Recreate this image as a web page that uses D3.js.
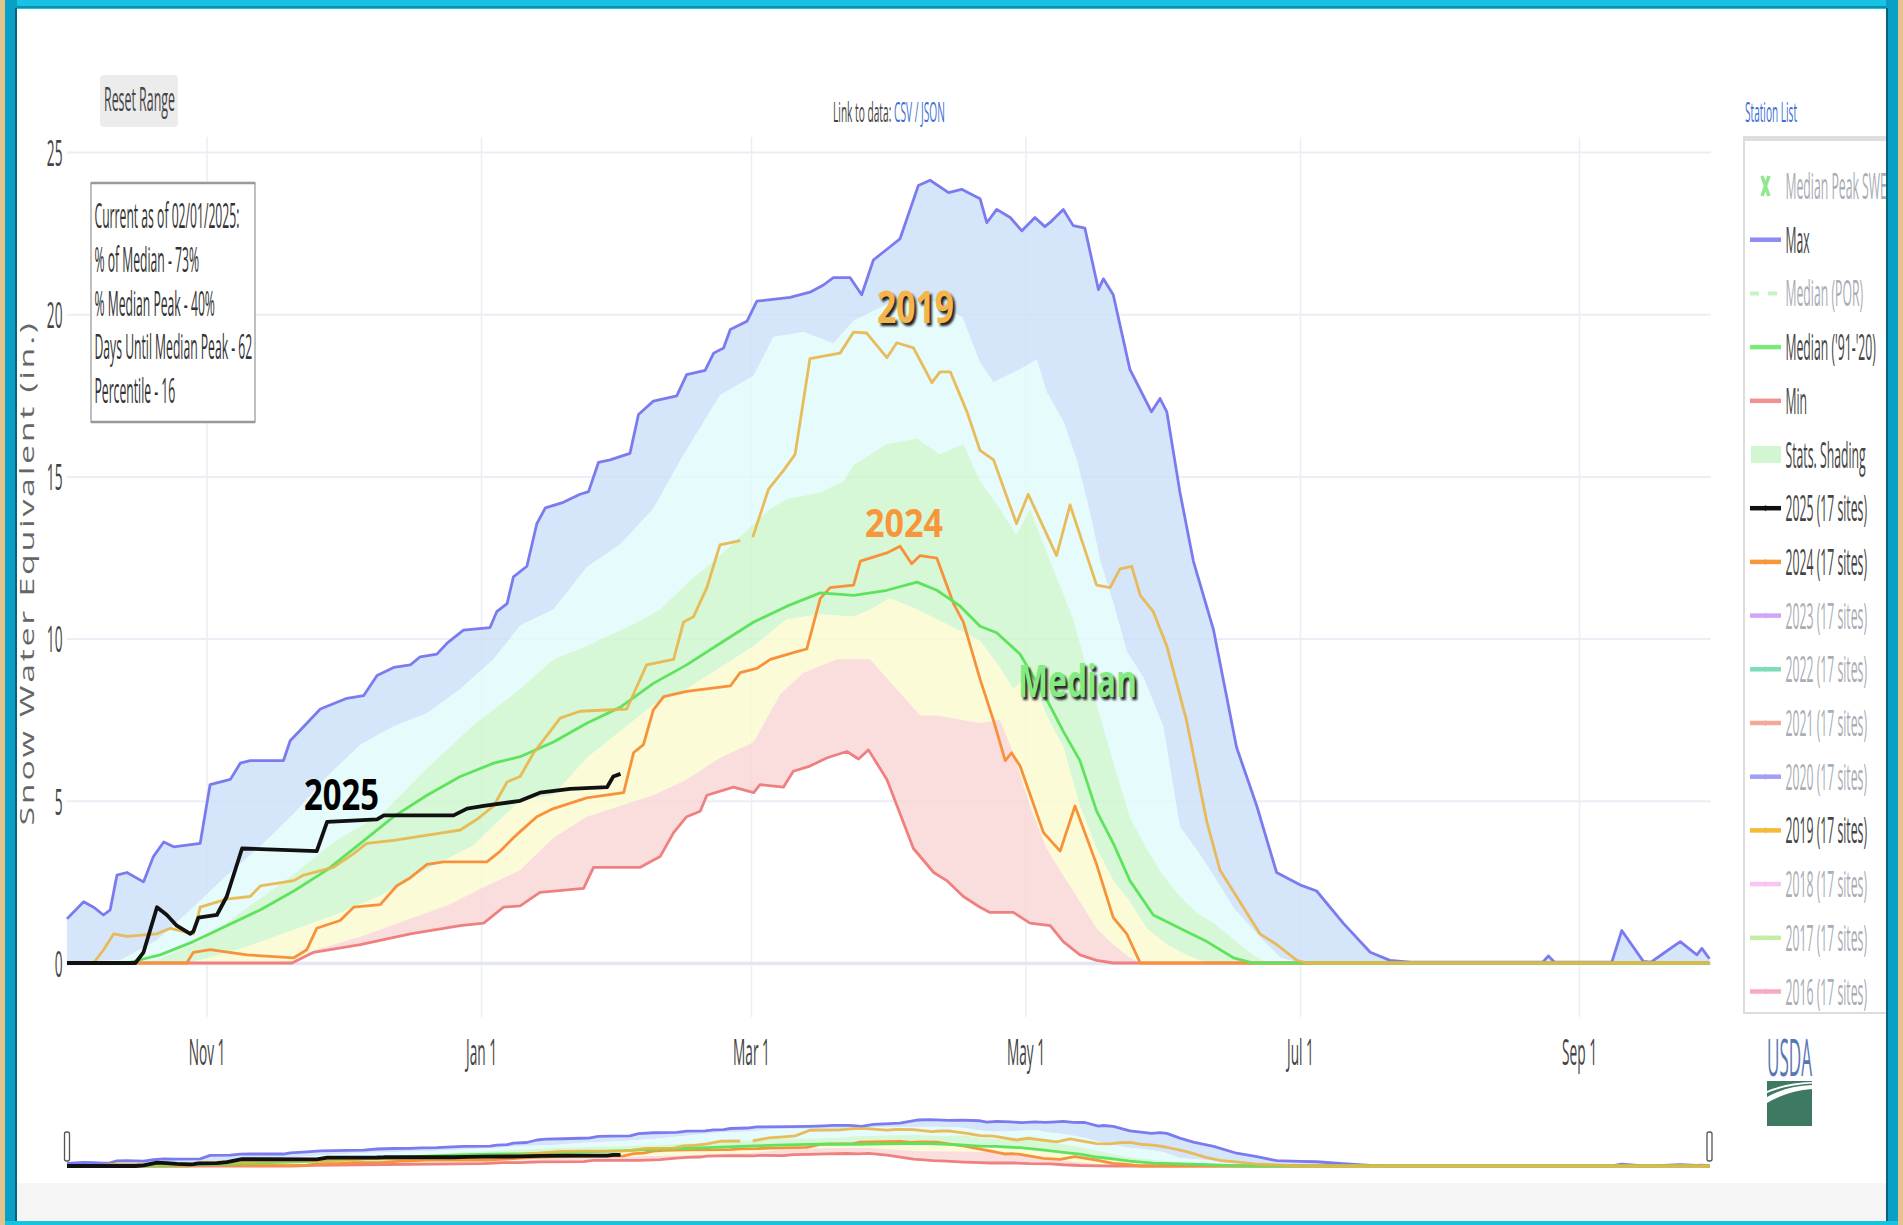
<!DOCTYPE html>
<html><head><meta charset="utf-8">
<script src="https://cdn.jsdelivr.net/npm/d3@7"></script>
<style>
html,body{margin:0;padding:0;background:#fff;overflow:hidden}
svg{display:block}
text{font-family:"Open Sans",sans-serif}
</style>
</head><body>
<svg id="chart" width="1903" height="1225"></svg>
<script>
// ---------------- DATA (day of water year, 0 = Oct 1; SWE inches) ----------------
const tickDates = ["1999-11-01","2000-01-01","2000-03-01","2000-05-01","2000-07-01","2000-09-01"];
const tickLabels = ["Nov 1","Jan 1","Mar 1","May 1","Jul 1","Sep 1"];
const yTicks = [0,5,10,15,20,25];

const maxSWE = [[0,1.36],[3.7,1.89],[5.9,1.72],[8.1,1.48],[9.6,1.64],[11.1,2.71],[13.3,2.79],[17,2.5],[19.2,3.28],[21.5,3.73],[23.7,3.58],[29.6,3.69],[31.8,5.5],[36.3,5.66],[38.5,6.16],[40.7,6.24],[48.1,6.24],[49.6,6.85],[53.3,7.39],[56.3,7.83],[62.2,8.16],[65.9,8.24],[68.9,8.86],[72.6,9.11],[76.3,9.19],[78.5,9.44],[82.2,9.52],[84.4,9.85],[88.1,10.26],[94,10.34],[95.5,10.83],[97.8,11.08],[99.2,11.9],[102.2,12.23],[104.4,13.54],[106.3,14.03],[110.3,14.2],[114,14.45],[115.9,14.53],[118.1,15.43],[120.7,15.51],[125.1,15.71],[127,16.91],[130.3,17.32],[135.5,17.48],[137.7,18.14],[141.8,18.27],[143.7,18.8],[145.9,18.96],[147.4,19.53],[151.1,19.78],[153.3,20.4],[160.7,20.52],[165.1,20.68],[168.1,20.9],[170.3,21.13],[174,21.13],[176.6,20.6],[179.2,21.67],[182.9,22.08],[185.1,22.32],[189.2,23.97],[191.8,24.13],[195.9,23.75],[198.8,23.85],[202.9,23.56],[204.4,22.82],[206.6,23.23],[209.6,22.98],[212.2,22.57],[215.1,22.98],[217.3,22.7],[218.8,22.87],[221.4,23.23],[223.6,22.73],[226.2,22.65],[229.2,20.76],[230.3,21.09],[232.5,20.6],[236.2,18.3],[241,16.99],[242.9,17.4],[244.4,16.99],[247.3,14.53],[250.3,12.39],[254.8,10.26],[259.9,6.65],[264.4,4.84],[268.8,2.79],[274,2.41],[277.7,2.22],[283.6,1.23],[289.6,0.33],[294,0.08],[298.5,0.03],[328,0.03],[329.2,0.22],[330.5,0.03],[343.3,0.03],[345.5,1.0],[350.3,0.05],[352,0.03],[354.8,0.3],[358.5,0.66],[362.2,0.25],[363.3,0.45],[365,0.13]];
const p90 = [[0,0],[12,0.1],[20,0.7],[28.1,1.72],[35.5,2.7],[43,3.6],[50.4,4.6],[57.8,5.75],[65.2,6.73],[72.6,7.3],[80,7.7],[87.4,8.45],[94.8,9.36],[100.7,10.4],[108.1,10.9],[115.5,12.2],[122.9,12.9],[130.3,14.0],[136.3,15.5],[145.1,17.5],[152.6,18.1],[157,19.3],[163.7,19.45],[170.3,19.1],[174.8,19.8],[182.2,20.3],[193.3,20.4],[199,19.9],[202.9,18.5],[205.9,17.9],[211.8,18.3],[215.5,18.6],[217.7,17.6],[221.4,16.7],[224.4,15.5],[227.3,13.9],[229.6,12.4],[232.5,11.1],[235.5,9.6],[239.2,8.8],[243.6,7.3],[247.3,4.2],[251,3.5],[254.8,2.7],[259.2,1.7],[264.4,0.9],[269.6,0.16],[274,0],[365,0]];
const p70 = [[0,0],[15,0],[20,0.1],[30,0.7],[40,1.7],[50,2.7],[60,3.8],[70,4.6],[80,6.0],[90,7.3],[100.7,8.45],[108.1,9.36],[115.5,9.77],[122.9,10.26],[126.6,10.5],[131.8,10.9],[137.7,11.7],[145.1,12.56],[152.6,13.54],[156.3,14.0],[160,14.3],[167.4,14.5],[172.6,14.86],[174.8,15.35],[182.2,16.0],[188.9,16.17],[194,15.68],[199.2,16.0],[202.9,14.86],[207.3,14.0],[211,13.2],[214,14.0],[216.2,13.2],[219.9,11.9],[223.6,10.6],[226.6,9.1],[229.6,7.6],[232.5,6.2],[236.2,4.5],[240,3.5],[243.6,2.7],[247.3,2.05],[251,1.56],[254.8,1.23],[259.2,0.74],[263.6,0.25],[266.6,0],[365,0]];
const p30 = [[0,0],[25,0],[30,0.1],[40,0.5],[50,1.0],[60,1.5],[70,2.1],[80,2.9],[90,3.6],[100.7,5.0],[108.1,5.17],[115.5,6.32],[122.9,7.14],[130.3,7.96],[137.7,8.45],[145.1,9.1],[152.6,9.77],[160,10.6],[167.4,10.75],[174.8,10.67],[178.5,10.9],[182.9,11.24],[188.9,10.9],[193.3,10.6],[202.9,9.93],[207.3,9.1],[210.3,8.45],[214,8.9],[217.7,7.63],[221.4,6.65],[225.1,4.84],[228.8,3.53],[232.5,2.54],[236.2,1.89],[239.9,1.07],[244.4,0.57],[248.8,0.25],[253.3,0],[365,0]];
const p10 = [[0,0],[45,0],[50,0.05],[55,0.4],[65,0.8],[75,1.3],[85,1.8],[92,2.3],[100.7,2.87],[108.1,3.86],[115.5,4.51],[122.9,4.84],[130.3,5.17],[137.7,5.66],[145.1,6.32],[152.6,6.81],[158.5,8.29],[163.7,8.95],[171.1,9.36],[178.5,9.36],[182.2,8.78],[189.6,7.63],[193.3,7.63],[202.9,7.4],[207.3,7.5],[210.3,6.48],[214,4.84],[217.7,3.53],[221.4,2.7],[225.1,1.89],[228.8,1.07],[232.5,0.57],[236.2,0.16],[238.5,0],[365,0]];
const minSWE = [[0,0],[50,0],[54.8,0.33],[65.2,0.57],[76.3,0.9],[87.4,1.15],[92.6,1.23],[97,1.72],[100.7,1.76],[105.1,2.18],[114.8,2.3],[117,2.95],[127.4,2.95],[131.8,3.28],[134.8,4.02],[137.7,4.51],[140.7,4.68],[142.2,5.17],[148.1,5.42],[152.6,5.25],[154,5.5],[159.2,5.42],[161.4,5.91],[165.1,6.07],[168.8,6.32],[173.3,6.52],[175.9,6.29],[178.1,6.57],[182.2,5.66],[188.1,3.53],[192.6,2.79],[195.5,2.54],[199.2,2.05],[202.9,1.72],[205.1,1.56],[210.3,1.56],[214,1.23],[218.5,1.15],[221.4,0.66],[225.1,0.25],[228.8,0.08],[232.5,0],[365,0]];
const medianSWE = [[0,0],[13.3,0],[20.7,0.25],[28.1,0.66],[35.5,1.15],[43,1.64],[50.4,2.22],[57.8,2.87],[65.2,3.69],[72.6,4.51],[80,5.17],[87.4,5.75],[94.8,6.16],[100.7,6.36],[108.1,6.81],[115.5,7.39],[122.9,7.88],[130.3,8.62],[137.7,9.19],[145.1,9.85],[152.6,10.51],[160,11.0],[167.4,11.41],[174.8,11.33],[182.2,11.49],[188.9,11.74],[193.3,11.49],[198.5,11.0],[202.9,10.38],[206.6,10.18],[211.8,9.52],[217.7,8.13],[221.4,7.14],[225.1,6.24],[228.8,4.68],[232.5,3.69],[236.2,2.54],[241.4,1.48],[247.3,1.07],[253.3,0.66],[259.2,0.16],[263.6,0],[365,0]];
const wy2019 = [[0,0],[5.9,0],[8.1,0.4],[10.4,0.9],[13.3,0.82],[20,0.9],[23,1.07],[28.1,0.9],[29.6,1.72],[35.5,1.97],[40.7,2.05],[43,2.38],[50.4,2.54],[52.6,2.71],[59.2,2.95],[63.7,3.37],[66.6,3.69],[72.6,3.78],[83.7,4.02],[87.4,4.1],[91.1,4.43],[94.8,4.84],[97.8,5.58],[100.7,5.75],[103.7,6.48],[109.6,7.55],[114,7.76],[124.4,7.83],[128.8,9.19],[134.8,9.36],[137,10.51],[139.2,10.67],[142.2,11.57],[145.1,12.89],[149.6,13.02],[150.6,null],[152.4,13.13],[155.9,14.61],[159.2,15.18],[161.8,15.68],[165.1,18.63],[171.8,18.8],[174.8,19.45],[177.7,19.42],[182.2,18.66],[184.4,19.12],[188.1,18.96],[192.2,17.89],[194,18.22],[196.3,18.22],[200,16.99],[202.9,15.8],[205.9,15.51],[211,13.54],[213.6,14.45],[219.9,12.56],[222.9,14.12],[228.8,11.65],[231.8,11.57],[234,12.15],[236.6,12.23],[238.5,11.33],[241.4,10.83],[244.4,9.77],[248.8,7.47],[253.3,4.35],[256.2,2.87],[261.4,1.72],[265.1,0.9],[268.8,0.57],[273.3,0.08],[275.5,0],[365,0]];
const wy2024 = [[0,0],[26.6,0],[28.1,0.33],[31.8,0.41],[40,0.25],[50.4,0.16],[53.3,0.41],[55.5,1.07],[60.7,1.31],[63.7,1.72],[69.6,1.8],[73.3,2.38],[76.3,2.63],[80,3.04],[83.7,3.12],[93.3,3.12],[96.3,3.45],[99.2,3.86],[100.7,4.05],[104.4,4.51],[108.1,4.76],[115.5,5.09],[123.7,5.25],[125.9,6.48],[128.1,6.73],[130.3,7.8],[132.6,8.21],[137.7,8.37],[147.4,8.54],[149.6,8.95],[153.3,9.08],[156.3,9.36],[162.2,9.6],[164.4,9.68],[167.4,11.24],[169.6,11.57],[174.8,11.65],[176.3,12.39],[182.2,12.64],[185.1,12.85],[187.7,12.31],[189.6,12.56],[193.3,12.48],[197,11.08],[199.2,10.51],[202.9,8.75],[205.9,7.47],[208.5,6.24],[209.9,6.48],[211.8,6.07],[217,4.02],[220.7,3.45],[224,4.84],[228.8,3.04],[232.5,1.4],[235.5,0.9],[238.5,0],[365,0]];
const wy2025 = [[0,0],[15.2,0],[17,0.33],[20,1.72],[22.2,1.48],[24.4,1.15],[27.4,0.9],[28.1,0.98],[29.2,1.4],[33.3,1.48],[35.5,2.05],[38.9,3.53],[55.5,3.45],[57.8,4.35],[68.9,4.43],[70.4,4.55],[85.9,4.55],[88.9,4.76],[92.6,4.84],[100.7,5.0],[105.1,5.25],[111.8,5.37],[120,5.42],[121.4,5.75],[123,5.83]];

const infoLines = ["Current as of 02/01/2025:","% of Median - 73%","% Median Peak - 40%","Days Until Median Peak - 62","Percentile - 16"];
const legendNames = ["Median Peak SWE","Max","Median (POR)","Median ('91-'20)","Min","Stats. Shading","2025 (17 sites)","2024 (17 sites)","2023 (17 sites)","2022 (17 sites)","2021 (17 sites)","2020 (17 sites)","2019 (17 sites)","2018 (17 sites)","2017 (17 sites)","2016 (17 sites)"];
const legendVisible = [false,true,false,true,true,true,true,true,false,false,false,false,true,false,false,false];
const annoLabels = ["2019","2024","Median","2025"];

// ---------------- STYLES ----------------
const C = {
  max:"#7b7bef", min:"#ef8080", median:"#5fe35f", y2019:"#e9b548", y2024:"#f7923a", y2025:"#111111",
  bandBlue:"rgb(204,224,249)", bandCyan:"rgb(224,250,250)", bandGreen:"rgb(204,246,204)",
  bandYellow:"rgb(250,250,206)", bandRed:"rgb(249,214,214)"
};
const legendSym = [
  {t:"x",c:"#8ee88e"},{t:"line",c:"#8c8cf2"},{t:"dash",c:"#c6f2c6"},{t:"line",c:"#7ae87a"},{t:"line",c:"#f29090"},
  {t:"rect",c:"#d2f6d2"},{t:"line",c:"#111"},{t:"line",c:"#f7963a"},{t:"line",c:"#cfa6f6"},{t:"line",c:"#7fdcb8"},
  {t:"line",c:"#f4a898"},{t:"line",c:"#a0a0f6"},{t:"line",c:"#f5b935"},{t:"line",c:"#f8c4f4"},{t:"line",c:"#c8eca8"},{t:"line",c:"#f8a8c0"}
];
const SX = 0.37;

// ---------------- SETUP ----------------
const svg = d3.select("#chart");
const T0 = Date.UTC(1999,9,1);
const dayDate = d => new Date(T0 + d*86400000);
const x = d3.scaleUtc().domain([dayDate(0), dayDate(365)]).range([67, 1709.5]);
const y = d3.scaleLinear().domain([0,25]).range([963,152]);
const yS = d3.scaleLinear().domain([0,25]).range([1166,1118]);

svg.append("rect").attr("width",1903).attr("height",1225).attr("fill","#fff");

function sText(parent, str, px, py, size, sx, anchor, color, extra) {
  const t = parent.append("text").attr("transform",`translate(${px},${py}) scale(${sx},1)`)
    .attr("text-anchor",anchor).attr("font-size",size).attr("fill",color).text(str);
  if (extra) extra(t);
  return t;
}
function fitText(t, px, py, target) {
  const w = t.node().getComputedTextLength();
  const s = target / w;
  t.attr("transform",`translate(${px},${py}) scale(${s},1)`);
  return s;
}

// ---------------- AXES / GRID ----------------
const gx = svg.append("g").attr("transform","translate(0,1017)")
  .call(d3.axisBottom(x).tickValues(tickDates.map(s=>new Date(s+"T00:00:00Z")))
    .tickFormat((d,i)=>tickLabels[i]).tickSize(-880).tickPadding(0));
gx.select(".domain").remove();
gx.selectAll(".tick line").attr("stroke","#eceef6").attr("stroke-width",1.5);
gx.selectAll(".tick text").attr("y",0).attr("dy",0).attr("transform",`translate(0,48) scale(0.38,1)`)
  .attr("font-size",36).attr("font-family",'"Open Sans",sans-serif').attr("fill","#444");

const gy = svg.append("g").attr("transform","translate(67,0)")
  .call(d3.axisLeft(y).tickValues(yTicks).tickSize(-1644).tickPadding(0));
gy.select(".domain").remove();
gy.selectAll(".tick line").attr("stroke",d=>d===0?"#e4e6f2":"#eceef6").attr("stroke-width",d=>d===0?3.5:2);
gy.selectAll(".tick text").attr("x",0).attr("dy","0.36em").attr("transform",`translate(-4.5,0) scale(${SX},1)`)
  .attr("font-size",37).attr("font-family",'"Open Sans",sans-serif').attr("fill","#444");

// ---------------- SERIES DRAWING ----------------
function drawSeries(g, ys, lw) {
  const px = d => x(dayDate(d[0]));
  const band = (up, lo) => {
    const pts = up.map(d=>[px(d), ys(d[1])]).concat(lo.slice().reverse().map(d=>[px(d), ys(d[1])]));
    return d3.line()(pts) + "Z";
  };
  const bands = [[maxSWE,p90,C.bandBlue],[p90,p70,C.bandCyan],[p70,p30,C.bandGreen],[p30,p10,C.bandYellow],[p10,minSWE,C.bandRed]];
  bands.forEach(b => g.append("path").attr("d",band(b[0],b[1])).attr("fill",b[2]).attr("fill-opacity",0.8));
  const ln = d3.line().defined(d=>d[1]!==null).x(px).y(d=>ys(d[1]));
  const lines = [[maxSWE,C.max,lw,1],[minSWE,C.min,lw,1],[wy2024,C.y2024,lw,1],[medianSWE,C.median,lw,1],[wy2019,C.y2019,lw,0.9],[wy2025,C.y2025,lw*1.35,1]];
  lines.forEach(l => g.append("path").attr("d",ln(l[0])).attr("fill","none").attr("stroke",l[1])
    .attr("stroke-width",l[2]).attr("stroke-opacity",l[3]).attr("stroke-linejoin","round"));
}
drawSeries(svg.append("g"), y, 2.8);

// ---------------- RANGE SLIDER ----------------
const gs = svg.append("g");
drawSeries(gs, yS, 2.8);
[64.5, 1707].forEach(hx => svg.append("rect").attr("x",hx).attr("y",1132).attr("width",5).attr("height",29)
  .attr("rx",2).attr("fill","#fff").attr("stroke","#555").attr("stroke-width",1.3));

// ---------------- TEXT ANNOTATIONS ----------------
const sh = svg.append("defs").append("filter").attr("id","blur").attr("x","-10%").attr("y","-10%").attr("width","120%").attr("height","120%");
sh.append("feGaussianBlur").attr("stdDeviation",1.2);
const annos = [
  {s:annoLabels[0], x:877, y:323, w:77, fs:44, c:"#f5b54a", shadow:true},
  {s:annoLabels[1], x:865, y:537, w:78, fs:40, c:"#f7963a", shadow:false},
  {s:annoLabels[2], x:1018, y:697, w:119, fs:45, c:"#82ec82", shadow:true},
  {s:annoLabels[3], x:304, y:810, w:75, fs:43, c:"#000", shadow:false}
];
annos.forEach(a => {
  if (a.shadow) svg.append("text").attr("x",a.x+2.5).attr("y",a.y+2.5).attr("textLength",a.w).attr("lengthAdjust","spacingAndGlyphs")
    .attr("font-family","'Liberation Sans',Arial,sans-serif").attr("font-weight","bold").attr("font-size",a.fs)
    .attr("fill","#222").attr("filter","url(#blur)").text(a.s);
  svg.append("text").attr("x",a.x).attr("y",a.y).attr("textLength",a.w).attr("lengthAdjust","spacingAndGlyphs")
    .attr("font-family","'Liberation Sans',Arial,sans-serif").attr("font-weight","bold").attr("font-size",a.fs)
    .attr("fill",a.c).text(a.s);
});

// ---------------- INFO BOX ----------------
svg.append("rect").attr("x",91).attr("y",183).attr("width",164).attr("height",239).attr("fill","#fff").attr("stroke","#aaa").attr("stroke-width",1.5);
svg.append("line").attr("x1",91).attr("x2",255).attr("y1",183).attr("y2",183).attr("stroke","#999").attr("stroke-width",2.5);
svg.append("line").attr("x1",91).attr("x2",255).attr("y1",422).attr("y2",422).attr("stroke","#999").attr("stroke-width",2.5);
let infoSX = null;
infoLines.forEach((s,i) => {
  const t = sText(svg, s, 94.5, 228 + i*43.8, 35, 1, "start", "#333");
  if (i===0) infoSX = fitText(t, 94.5, 228, 145);
  else t.attr("transform",`translate(94.5,${228+i*43.8}) scale(${infoSX},1)`);
});

// ---------------- TOP TEXTS ----------------
svg.append("rect").attr("x",100).attr("y",75).attr("width",78).attr("height",52).attr("rx",4).attr("fill","#ececec");
fitText(sText(svg,"Reset Range",0,0,33,1,"start","#444"), 104, 111, 71);
const lk = svg.append("text").attr("font-size",27);
lk.append("tspan").attr("fill","#444").text("Link to data: ");
lk.append("tspan").attr("fill","#3b6fd6").text("CSV / JSON");
fitText(lk, 833, 122, 112);
fitText(sText(svg,"Station List",0,0,27,1,"start","#3b6fd6"), 1745, 122, 52);

// y axis title
svg.append("text").attr("transform","translate(27,573) rotate(-90) scale(1,0.56)")
  .attr("text-anchor","middle").attr("dominant-baseline","central").attr("font-size",34).attr("fill","#666")
  .attr("letter-spacing",2.7)
  .text("Snow Water Equivalent (in.)");

// ---------------- LEGEND ----------------
svg.append("rect").attr("x",1744).attr("y",139).attr("width",160).attr("height",874).attr("fill","#fff").attr("stroke","#dcdcdc").attr("stroke-width",2);
svg.append("rect").attr("x",1743).attr("y",136).attr("width",160).attr("height",5).attr("fill","#dedede");
legendNames.forEach((name,i) => {
  const cy = 186 + i*53.7;
  const sym = legendSym[i];
  const on = legendVisible[i];
  if (sym.t==="line") {
    svg.append("line").attr("x1",1750).attr("x2",1781).attr("y1",cy).attr("y2",cy).attr("stroke",sym.c).attr("stroke-width",4.5);
    if (i>=6) svg.append("line").attr("x1",1765.5).attr("x2",1765.5).attr("y1",cy-3).attr("y2",cy+3).attr("stroke",sym.c).attr("stroke-width",1.5).attr("stroke-opacity",0.6);
  } else if (sym.t==="dash") {
    svg.append("line").attr("x1",1750).attr("x2",1781).attr("y1",cy).attr("y2",cy).attr("stroke",sym.c).attr("stroke-width",4).attr("stroke-dasharray","9,9");
  } else if (sym.t==="rect") {
    svg.append("rect").attr("x",1751).attr("y",cy-8.5).attr("width",30).attr("height",17).attr("fill",sym.c);
  } else if (sym.t==="x") {
    svg.append("path").attr("d",`M1762,${cy-10}L1769,${cy+10}M1769,${cy-10}L1762,${cy+10}`).attr("stroke",sym.c).attr("stroke-width",3.5);
  }
  sText(svg, name, 1785.5, cy+13, 36, 0.34, "start", on ? "#444" : "#a9adb6");
});

// ---------------- USDA LOGO ----------------
fitText(sText(svg,"USDA",0,0,52,1,"start","#5677b5"), 1767, 1076, 45);
svg.append("rect").attr("x",1767).attr("y",1081).attr("width",45).attr("height",45).attr("fill","#3e7a62");
svg.append("path").attr("d","M1767,1097 Q1786,1086 1812,1085 L1812,1089 Q1787,1091 1767,1103 Z").attr("fill","#fff");
svg.append("path").attr("d","M1767,1091 Q1785,1083 1812,1082 L1812,1083.5 Q1785,1085 1767,1093 Z").attr("fill","#fff");

// ---------------- FRAME ----------------
svg.append("rect").attr("x",17).attr("y",1183).attr("width",1869).attr("height",38).attr("fill","#f5f5f5");
svg.append("rect").attr("x",0).attr("y",0).attr("width",5).attr("height",1225).attr("fill","#e3c58c");
svg.append("rect").attr("x",1898).attr("y",0).attr("width",5).attr("height",1225).attr("fill","#e3c58c");
svg.append("rect").attr("x",5).attr("y",0).attr("width",1893).attr("height",9).attr("fill","#17c2e2");
svg.append("rect").attr("x",5).attr("y",6).attr("width",1893).attr("height",2).attr("fill","#0c8fb0");
svg.append("rect").attr("x",5).attr("y",0).attr("width",12).attr("height",1225).attr("fill","#0aa0c6");
svg.append("rect").attr("x",15).attr("y",8).attr("width",2).attr("height",1213).attr("fill","#06617c");
svg.append("rect").attr("x",1886).attr("y",0).attr("width",12).attr("height",1225).attr("fill","#0aa0c6");
svg.append("rect").attr("x",1886).attr("y",8).attr("width",2).attr("height",1213).attr("fill","#06617c");
svg.append("rect").attr("x",5).attr("y",1221).attr("width",1893).attr("height",4).attr("fill","#17c2e2");
</script>
</body></html>
